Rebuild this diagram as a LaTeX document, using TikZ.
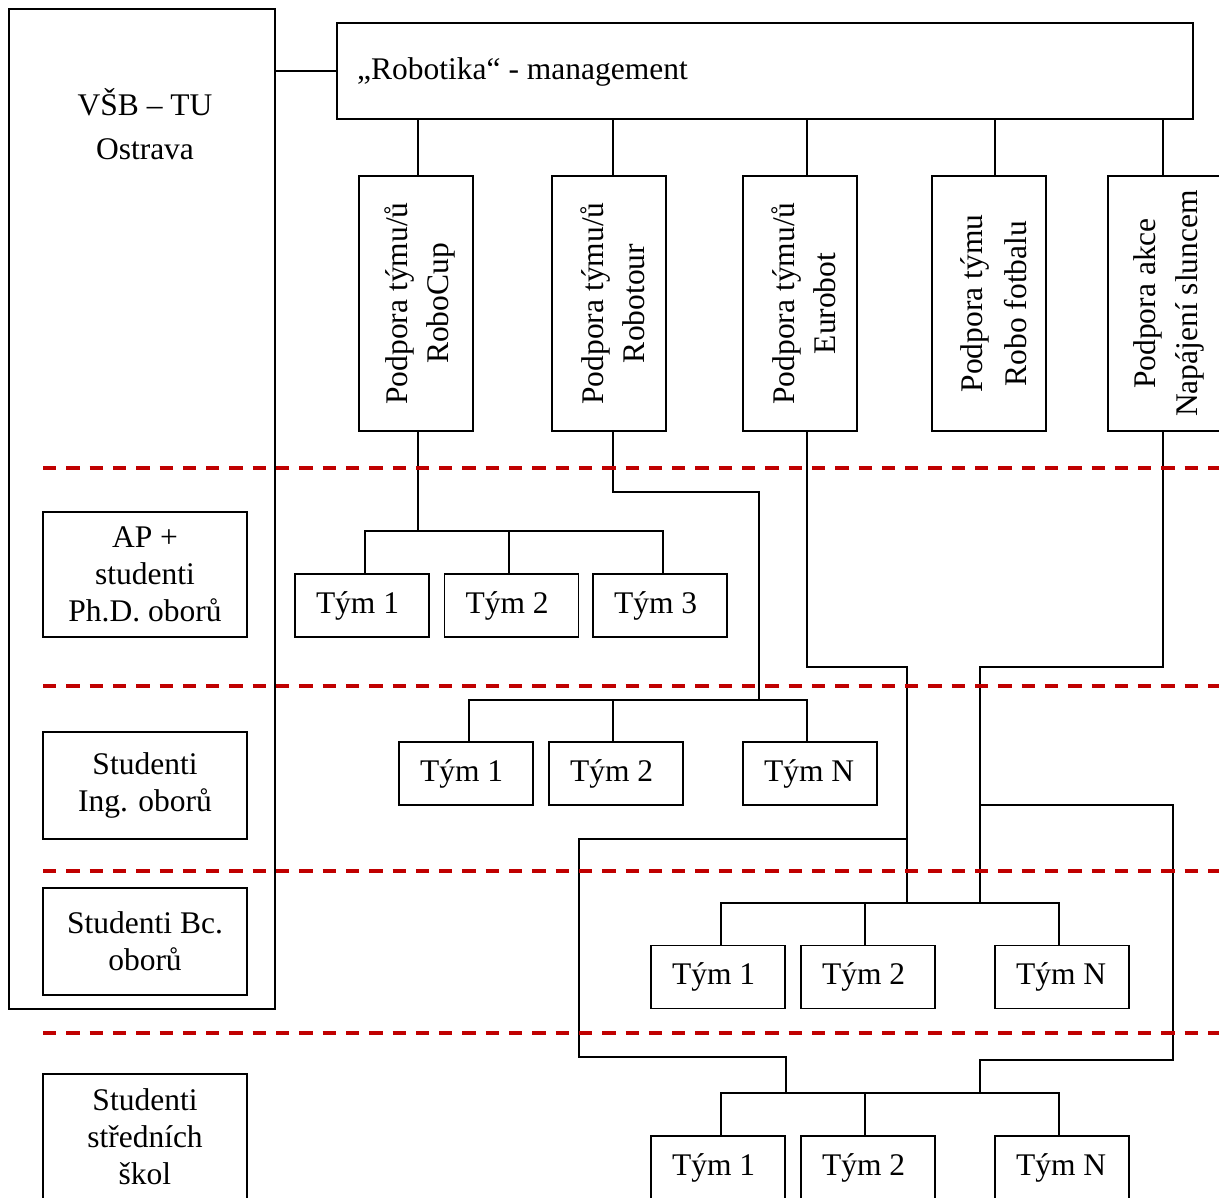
\documentclass[tikz,border=0pt]{standalone}
\usepackage{fontspec}
\setmainfont{Liberation Serif}
\definecolor{sepred}{RGB}{192,0,0}
\newcommand{\tymtext}[1]{\makebox[92pt][l]{#1}}
\begin{document}
\begin{tikzpicture}[x=1pt,y=-1pt,
  every node/.style={font=\fontsize{31.5}{37}\selectfont, inner sep=0pt, align=center},
  bx/.style={draw, line width=1.6pt},
  ln/.style={line width=1.6pt},
  tym/.style={bx, minimum width=134pt, minimum height=63pt},
  vbox/.style={bx, minimum width=114pt, minimum height=255pt},
  lbl/.style={bx, minimum width=204pt},
  vtxt/.style={rotate=90, font=\fontsize{31.5}{41}\selectfont},
  sep/.style={draw=sepred, line width=3.2pt, dash pattern=on 13.3pt off 10pt}
]
\useasboundingbox (0,0) rectangle (1219,1198);
\clip (0,0) rectangle (1219,1198);

% left column
\node[bx, minimum width=266pt, minimum height=1000pt] (vsb) at (142,509) {};
\node (vsbt) at (145,124) {VŠB – TU\\[7pt]Ostrava};
\node[lbl, minimum height=125pt] (L1) at (145,574.5) {AP +\\studenti\\Ph.D. oborů};
\node[lbl, minimum height=107pt] (L2) at (145,785.5) {Studenti\\Ing. oborů};
\node[lbl, minimum height=107pt] (L3) at (145,941.5) {Studenti Bc.\\oborů};
\node[lbl, minimum height=126pt] (L4) at (145,1137) {Studenti\\středních\\škol};

% management
\node[bx, minimum width=856pt, minimum height=96pt] (mgmt) at (765,71) {};
\node[anchor=west] (mgmtt) at (357,72) {„Robotika“ - management};

% vertical boxes
\node[vbox] (v1) at (416,303.5) {};
\node[vbox] (v2) at (609,303.5) {};
\node[vbox] (v3) at (800,303.5) {};
\node[vbox] (v4) at (989,303.5) {};
\node[vbox] (v5) at (1165,303.5) {};
\node[vtxt] (v1t) at (420,303.5) {Podpora týmu/ů\\RoboCup};
\node[vtxt] (v2t) at (613,303.5) {Podpora týmu/ů\\Robotour};
\node[vtxt] (v3t) at (804,303.5) {Podpora týmu/ů\\Eurobot};
\node[vtxt, font=\fontsize{31.5}{44}\selectfont] (v4t) at (994,303.5) {Podpora týmu\\Robo fotbalu};
\node[vtxt, font=\fontsize{31.5}{42}\selectfont] (v5t) at (1169,303.5) {Podpora akce\\Napájení sluncem};

% team rows
\node[tym] (A1) at (362,605.5) {\tymtext{Tým 1}};
\node[tym] (A2) at (511.5,605.5) {\tymtext{Tým 2}};
\node[tym] (A3) at (660,605.5) {\tymtext{Tým 3}};
\node[tym] (B1) at (466,773.5) {\tymtext{Tým 1}};
\node[tym] (B2) at (616,773.5) {\tymtext{Tým 2}};
\node[tym] (BN) at (810,773.5) {\tymtext{Tým N}};
\node[tym] (C1) at (718,977) {\tymtext{Tým 1}};
\node[tym] (C2) at (868,977) {\tymtext{Tým 2}};
\node[tym] (CN) at (1062,977) {\tymtext{Tým N}};
\node[tym] (D1) at (718,1167.5) {\tymtext{Tým 1}};
\node[tym] (D2) at (868,1167.5) {\tymtext{Tým 2}};
\node[tym] (DN) at (1062,1167.5) {\tymtext{Tým N}};

% connector columns
\coordinate (x1) at (418,0);
\coordinate (x2) at (613,0);
\coordinate (x3) at (807,0);
\coordinate (x4) at (995,0);
\coordinate (x5) at (1163,0);
\coordinate (xa1) at (365,0);
\coordinate (xa2) at (509,0);
\coordinate (xa3) at (663,0);
\coordinate (xb1) at (469,0);
\coordinate (xb2) at (613,0);
\coordinate (xb3) at (807,0);
\coordinate (xc1) at (721,0);
\coordinate (xc2) at (865,0);
\coordinate (xc3) at (1059,0);

% junctions and bends
\coordinate (jA) at (418,531);
\coordinate (bk1) at (759,492);
\coordinate (jB) at (759,700);
\coordinate (e1) at (907,667);
\coordinate (jC1) at (907,903);
\coordinate (s1) at (980,667);
\coordinate (jC2) at (980,903);
\coordinate (lp1) at (907,839);
\coordinate (lp2) at (579,1057);
\coordinate (jD1) at (786,1093);
\coordinate (rp1) at (980,805);
\coordinate (rp2) at (1173,1060);
\coordinate (jD2) at (980,1093);

% connectors
\draw[ln] (mgmt.west) -- (mgmt.west -| vsb.east);
\draw[ln] (x1 |- v1.north) -- (x1 |- mgmt.south);
\draw[ln] (x2 |- v2.north) -- (x2 |- mgmt.south);
\draw[ln] (x3 |- v3.north) -- (x3 |- mgmt.south);
\draw[ln] (x4 |- v4.north) -- (x4 |- mgmt.south);
\draw[ln] (x5 |- v5.north) -- (x5 |- mgmt.south);

\draw[ln] (x1 |- v1.south) -- (jA);
\draw[ln] (xa1 |- A1.north) |- (xa3 |- jA) -- (xa3 |- A3.north);
\draw[ln] (xa2 |- A2.north) -- (xa2 |- jA);

\draw[ln] (x2 |- v2.south) |- (bk1) -- (jB);
\draw[ln] (xb1 |- B1.north) |- (xb3 |- jB) -- (xb3 |- BN.north);
\draw[ln] (xb2 |- B2.north) -- (xb2 |- jB);

\draw[ln] (x3 |- v3.south) |- (e1) -- (jC1);
\draw[ln] (x5 |- v5.south) |- (s1) -- (jC2);
\draw[ln] (xc1 |- C1.north) |- (xc3 |- jC1) -- (xc3 |- CN.north);
\draw[ln] (xc2 |- C2.north) -- (xc2 |- jC1);

\draw[ln] (lp1) -| (lp2) -| (jD1);
\draw[ln] (rp1) -| (rp2) -| (jD2);
\draw[ln] (xc1 |- D1.north) |- (xc3 |- jD1) -- (xc3 |- DN.north);
\draw[ln] (xc2 |- D2.north) -- (xc2 |- jD1);

% separators
\foreach \yy in {468,686,871,1033}
  \draw[sep] (43,\yy) -- (1219,\yy);
\end{tikzpicture}
\end{document}
